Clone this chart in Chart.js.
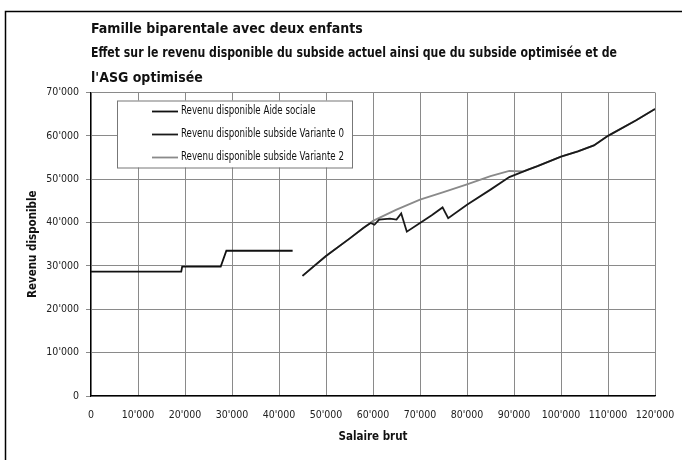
<!DOCTYPE html>
<html>
<head>
<meta charset="utf-8">
<script src="https://cdn.jsdelivr.net/npm/chart.js@4"></script>
<style>
  html, body { margin: 0; padding: 0; background: #fff; }
  #wrap { width: 682px; height: 460px; }
</style>
</head>
<body>
<div id="wrap"><canvas id="chart" width="682" height="460"></canvas></div>
<script>
const titleLines = [
  'Famille biparentale avec deux enfants',
  'Effet sur le revenu disponible du subside actuel ainsi que du subside optimisée et de',
  "l'ASG optimisée"
];
const seriesNames = [
  'Revenu disponible Aide sociale',
  'Revenu disponible subside Variante 0',
  'Revenu disponible subside Variante 2'
];

// salaire brut / revenu disponible
const aideX = [0, 19200, 19400, 27600, 28800, 42900];
const aideY = [28700, 28700, 29850, 29850, 33500, 33500];

const var0X = [45000, 47500, 50000, 55000, 58000, 59500, 60300, 61300, 63600, 65000, 66000, 67200, 70000, 72500, 74800, 76000, 80000, 85000, 89000, 93000, 95000, 100000, 103600, 107000, 110000, 116000, 120000];
const var0Y = [27700, 30000, 32300, 36300, 38800, 39900, 39500, 40700, 40900, 40700, 42100, 37900, 39900, 41700, 43500, 41000, 44100, 47600, 50500, 52200, 53000, 55200, 56400, 57800, 60000, 63600, 66200];

const var2X = [45000, 50000, 55000, 60000, 65000, 70000, 75000, 80000, 85000, 89000, 92000, 93000, 95000, 100000, 103600, 107000, 110000, 116000, 120000];
const var2Y = [27700, 32300, 36300, 40400, 43000, 45300, 47000, 48800, 50700, 51900, 51800, 52200, 53000, 55200, 56400, 57800, 60000, 63600, 66200];

const pts = (xs, ys) => xs.map((x, i) => ({ x: x, y: ys[i] }));
const fmt = v => String(v).replace(/\B(?=(\d{3})+(?!\d))/g, "'");

const narrow = '"DejaVu Sans Condensed", "Liberation Sans", sans-serif';

const frame = {
  id: 'frame',
  beforeDraw(chart) {
    const ctx = chart.ctx;
    ctx.save();
    ctx.strokeStyle = '#000';
    ctx.lineWidth = 1.5;
    ctx.strokeRect(5.5, 11.5, 800, 800);
    ctx.restore();
  }
};

// the original title font is narrower: keep the title box at the width of the printed text
const titleFit = {
  id: 'titleFit',
  afterLayout(chart) {
    const t = chart.titleBlock;
    t.right = t.left + 526;
    t.width = 526;
  }
};

const legendBox = {
  id: 'legendBox',
  afterDatasetsDraw(chart) {
    const { ctx, chartArea: a } = chart;
    const x = a.left + 26, y = a.top + 8, w = 235, h = 67;
    ctx.save();
    ctx.fillStyle = '#fff';
    ctx.fillRect(x, y, w, h);
    ctx.strokeStyle = '#777';
    ctx.lineWidth = 1;
    ctx.strokeRect(x + 0.5, y + 0.5, w, h);
    ctx.font = '11.5px ' + narrow;
    ctx.textBaseline = 'middle';
    chart.data.datasets.forEach((ds, i) => {
      const ry = y + 11 + i * 23;
      ctx.strokeStyle = ds.borderColor;
      ctx.lineWidth = ds.borderWidth;
      ctx.beginPath();
      ctx.moveTo(x + 35, ry);
      ctx.lineTo(x + 61, ry);
      ctx.stroke();
      ctx.fillStyle = '#111';
      ctx.fillText(ds.label, x + 64, ry, ctx.measureText(ds.label).width * 0.84);
    });
    ctx.restore();
  }
};

new Chart(document.getElementById('chart'), {
  type: 'line',
  data: {
    datasets: [
      { label: seriesNames[0], data: pts(aideX, aideY), borderColor: '#111', borderWidth: 1.8 },
      { label: seriesNames[1], data: pts(var0X, var0Y), borderColor: '#1a1a1a', borderWidth: 1.8 },
      { label: seriesNames[2], data: pts(var2X, var2Y), borderColor: '#8a8a8a', borderWidth: 1.8 }
    ]
  },
  options: {
    responsive: false,
    animation: false,
    elements: { point: { radius: 0 }, line: { tension: 0 } },
    layout: { padding: { left: 0, right: 27, top: 0, bottom: 0 } },
    plugins: {
      legend: { display: false },
      tooltip: { enabled: false },
      title: {
        display: true,
        fullSize: false,
        align: 'start',
        text: titleLines,
        color: '#111',
        font: { family: narrow, size: 14, weight: 'bold', lineHeight: 1.75 },
        padding: { top: 17, bottom: 2 }
      }
    },
    scales: {
      x: {
        type: 'linear',
        min: 0, max: 120000,
        afterFit: s => { s.height = 64; s.paddingRight = 0; s.paddingLeft = 0; },
        ticks: { stepSize: 10000, autoSkip: false, callback: fmt, color: '#222', font: { family: narrow, size: 10.5 }, padding: 13, maxRotation: 0 },
        grid: { color: '#8a8a8a', lineWidth: 1, tickLength: 0 },
        border: { color: '#000', width: 1.2 },
        title: { display: true, text: 'Salaire brut', color: '#111', font: { family: narrow, size: 11.5, weight: 'bold' }, padding: { top: 0, bottom: 16 } }
      },
      y: {
        min: 0, max: 70000,
        afterFit: s => { s.width = 91; },
        ticks: { stepSize: 10000, callback: fmt, color: '#222', font: { family: narrow, size: 10.5 }, padding: 7 },
        grid: { color: '#8a8a8a', lineWidth: 1, tickLength: 5 },
        border: { color: '#000', width: 1.2 },
        title: { display: true, text: 'Revenu disponible', color: '#111', font: { family: narrow, size: 11.5, weight: 'bold' }, padding: { top: 26, bottom: 0 } }
      }
    }
  },
  plugins: [frame, titleFit, legendBox]
});
</script>
</body>
</html>
